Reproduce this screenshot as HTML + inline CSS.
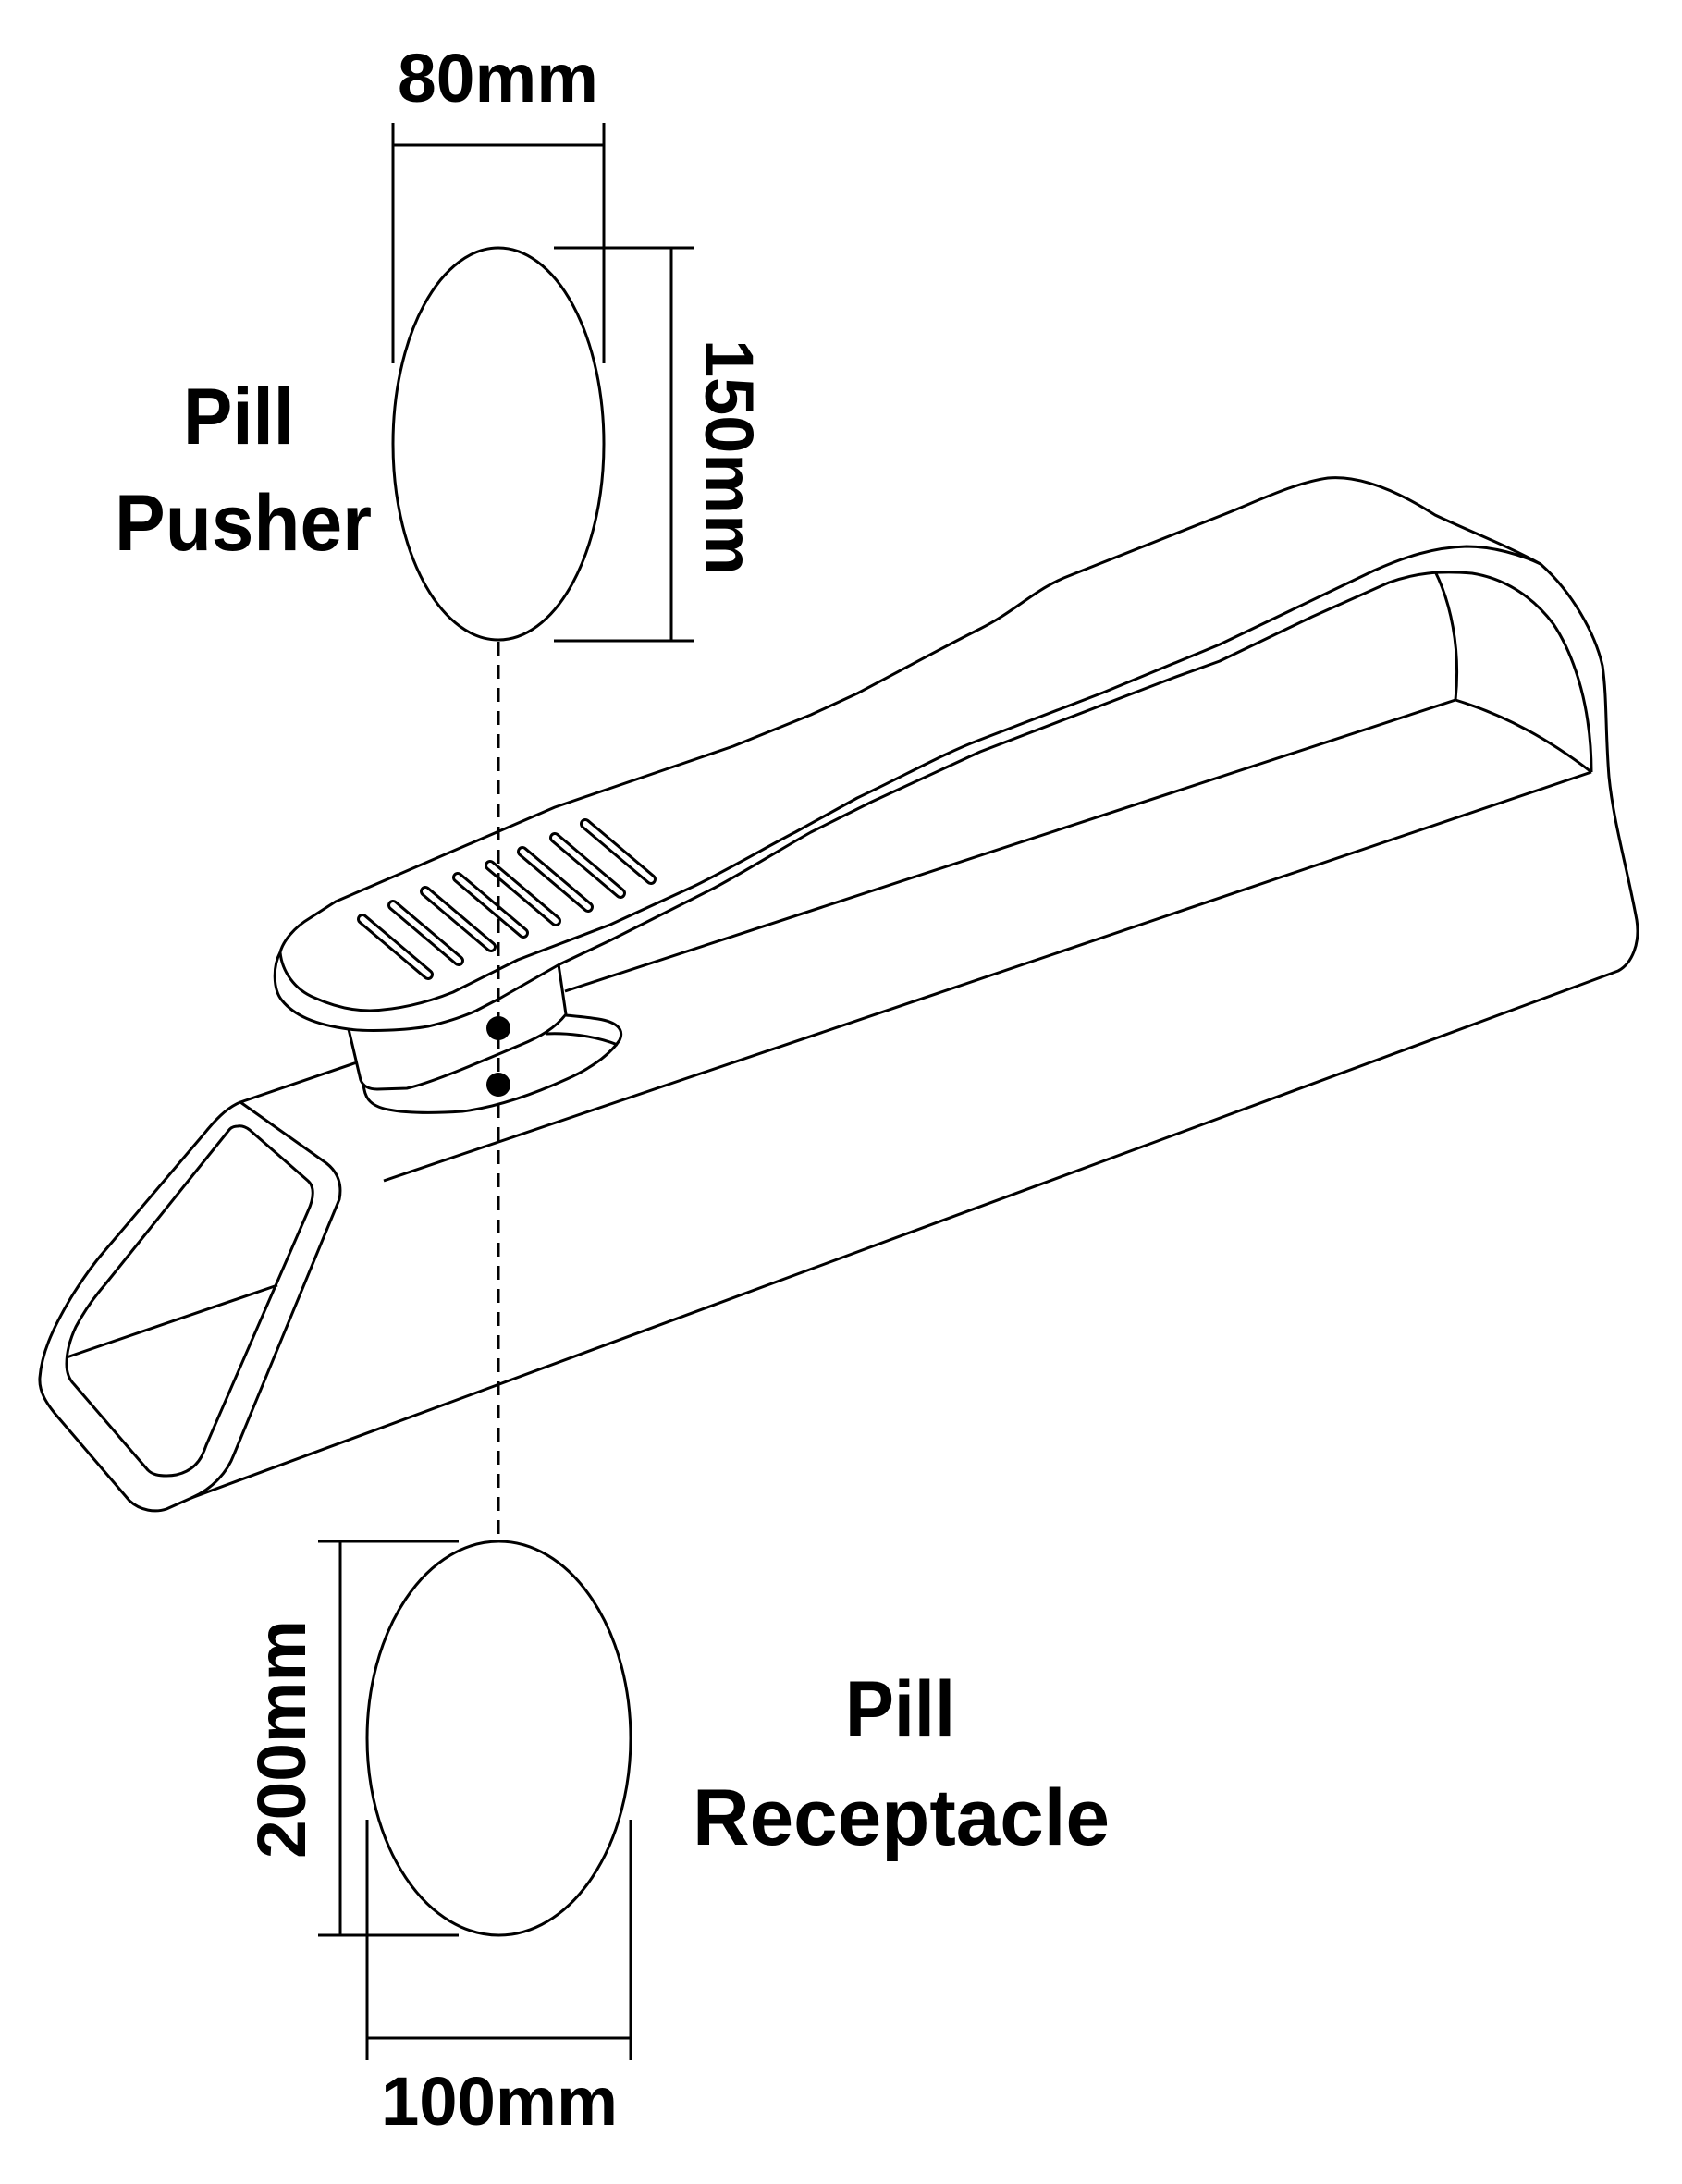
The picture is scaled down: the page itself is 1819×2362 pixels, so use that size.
<!DOCTYPE html>
<html>
<head>
<meta charset="utf-8">
<style>
  html, body { margin: 0; padding: 0; background: #ffffff; }
  svg { display: block; }
  text { font-family: "Liberation Sans", "DejaVu Sans", sans-serif; font-weight: bold; fill: #000; }
</style>
</head>
<body>
<svg xmlns="http://www.w3.org/2000/svg" width="1819" height="2362" viewBox="0 0 1819 2362">
  <rect x="0" y="0" width="1819" height="2362" fill="#ffffff"/>

  <g fill="none" stroke="#000" stroke-width="3" stroke-linejoin="round" stroke-linecap="butt">
    <!-- ===== Pill pusher ellipse & dims ===== -->
    <ellipse cx="539" cy="480" rx="114" ry="212"/>
    <!-- 80mm -->
    <line x1="425" y1="133" x2="425" y2="393"/>
    <line x1="653" y1="133" x2="653" y2="393"/>
    <line x1="425" y1="157" x2="653" y2="157"/>
    <!-- 150mm -->
    <line x1="599" y1="268" x2="751" y2="268"/>
    <line x1="599" y1="693" x2="751" y2="693"/>
    <line x1="726" y1="268" x2="726" y2="693"/>

    <!-- ===== Receptacle ellipse & dims ===== -->
    <ellipse cx="539.5" cy="1880" rx="142.5" ry="213"/>
    <!-- 200mm -->
    <line x1="344" y1="1667" x2="496" y2="1667"/>
    <line x1="344" y1="2093" x2="496" y2="2093"/>
    <line x1="368" y1="1667" x2="368" y2="2093"/>
    <!-- 100mm -->
    <line x1="397" y1="1968" x2="397" y2="2228"/>
    <line x1="682" y1="1968" x2="682" y2="2228"/>
    <line x1="397" y1="2204" x2="682" y2="2204"/>

    <!-- ===== Device ===== -->
    <path d="M303,1030 C306,1018 318,1003 335,993 L363,975 L600,873 L720,832 L793,807 L877,773 L927,750
             C980,722 1020,700 1060,680 C1100,660 1120,636 1158,622 L1322,557
             C1360,542 1400,522 1436,517 C1470,514 1510,530 1552,557 C1590,575 1630,590 1666,610
             C1700,640 1725,685 1733,720 C1738,755 1736,790 1740,840 C1745,890 1760,940 1770,995
             C1774,1020 1765,1042 1750,1050 L207,1620"/>

    <path d="M303,1030 C305,1050 318,1070 340,1079 C360,1088 380,1093 400,1093 C430,1092 460,1085 490,1073
             L560,1038 L660,1000 L747,960 C770,950 840,910 860,900 L927,863
             C980,838 1020,815 1060,800 L1193,749 L1319,697 L1486,617
             C1520,602 1550,592 1586,591 C1615,591 1645,600 1666,610"/>

    <path d="M303,1030 C295,1045 295,1070 305,1082 C318,1098 340,1108 377,1113 C400,1116 440,1114 463,1110
             C480,1106 500,1100 515,1093 L540,1080 L605,1043 L660,1017 L773,960
             C810,940 850,915 877,900 L943,867 L1060,813 L1269,733 L1319,715 L1419,667 L1502,630
             C1530,620 1555,617 1592,620 C1630,626 1660,648 1680,675 C1700,705 1712,745 1717,780
             C1720,800 1721,820 1721,835"/>

    <path d="M1552,618 C1568,650 1580,700 1574,757"/>
    <path d="M1574,757 Q1650,780 1721,835"/>

    <line x1="611" y1="1072" x2="1574" y2="757"/>
    <line x1="260" y1="1192" x2="386" y2="1149"/>
    <line x1="415" y1="1277" x2="1721" y2="835"/>

    <path d="M377,1113 L390,1168 Q394,1178 408,1178 L440,1177 C470,1170 520,1148 563,1130
             C585,1121 600,1112 612,1097 L604,1043"/>
    <path d="M393,1172 C394,1185 398,1196 420,1200 C440,1204 470,1204 500,1202 C540,1197 580,1182 613,1167
             C640,1155 660,1140 670,1125 C676,1112 665,1105 647,1102 C635,1100 622,1099 612,1098"/>
    <path d="M590,1118 C610,1117 640,1119 668,1130"/>

    <path d="M260,1192 L353,1258 C366,1268 370,1282 367,1297 L253,1573 C246,1592 230,1610 207,1620
             L180,1632 C168,1636 152,1634 140,1623 L63,1533 C50,1518 42,1505 43,1490
             C45,1465 55,1440 77,1403 C90,1382 100,1368 113,1353 L220,1227
             C232,1212 245,1198 260,1192 Z"/>
    <path d="M257,1218 C252,1218 249,1220 247,1223 L113,1390 C100,1405 90,1420 82,1435
             C75,1450 72,1462 72,1475 C72,1485 75,1492 80,1497 L160,1590
             C165,1595 172,1596 180,1596 C195,1596 210,1590 218,1575 C221,1569 222,1566 223,1563
             L333,1310 C340,1295 340,1283 333,1277 L270,1222 C266,1219 262,1217 257,1218 Z"/>
    <line x1="72" y1="1468" x2="300" y2="1390"/>
  </g>

  <g stroke-linecap="round" fill="none">
    <g stroke="#000" stroke-width="12">
      <line x1="392" y1="994" x2="463" y2="1054"/>
      <line x1="425" y1="979" x2="496" y2="1039"/>
      <line x1="460" y1="964" x2="531" y2="1024"/>
      <line x1="495" y1="949" x2="566" y2="1009"/>
      <line x1="530" y1="936" x2="601" y2="996"/>
      <line x1="565" y1="921" x2="636" y2="981"/>
      <line x1="600" y1="906" x2="671" y2="966"/>
      <line x1="633" y1="891" x2="704" y2="951"/>
    </g>
    <g stroke="#fff" stroke-width="6">
      <line x1="392" y1="994" x2="463" y2="1054"/>
      <line x1="425" y1="979" x2="496" y2="1039"/>
      <line x1="460" y1="964" x2="531" y2="1024"/>
      <line x1="495" y1="949" x2="566" y2="1009"/>
      <line x1="530" y1="936" x2="601" y2="996"/>
      <line x1="565" y1="921" x2="636" y2="981"/>
      <line x1="600" y1="906" x2="671" y2="966"/>
      <line x1="633" y1="891" x2="704" y2="951"/>
    </g>
  </g>

  <line x1="539" y1="694" x2="539" y2="1666" stroke="#000" stroke-width="3" stroke-dasharray="15 10" fill="none"/>
  <circle cx="539" cy="1112" r="13" fill="#000"/>
  <circle cx="539" cy="1173" r="13" fill="#000"/>

  <text x="430" y="110" font-size="74" textLength="217" lengthAdjust="spacingAndGlyphs">80mm</text>
  <text transform="translate(763,367) rotate(90)" x="0" y="0" font-size="74" textLength="255" lengthAdjust="spacingAndGlyphs">150mm</text>
  <text transform="translate(330,2010) rotate(-90)" x="0" y="0" font-size="74" textLength="258" lengthAdjust="spacingAndGlyphs">200mm</text>
  <text x="412" y="2298" font-size="74" textLength="256" lengthAdjust="spacingAndGlyphs">100mm</text>

  <text x="198" y="480" font-size="86" textLength="120" lengthAdjust="spacingAndGlyphs">Pill</text>
  <text x="124" y="595" font-size="86" textLength="278" lengthAdjust="spacingAndGlyphs">Pusher</text>

  <text x="914" y="1878" font-size="86" textLength="119" lengthAdjust="spacingAndGlyphs">Pill</text>
  <text x="749" y="1995" font-size="86" textLength="451" lengthAdjust="spacingAndGlyphs">Receptacle</text>
</svg>
</body>
</html>
